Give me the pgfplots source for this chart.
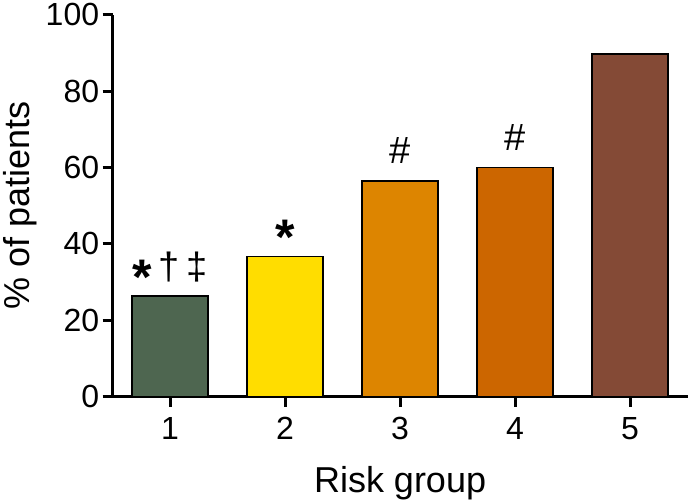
\documentclass[border=0pt]{standalone}
\usepackage{pgfplots}
\pgfplotsset{compat=1.18}
\usepackage{fontspec}
\setmainfont{Liberation Sans}

\definecolor{grpone}{HTML}{4E6650}
\definecolor{grptwo}{HTML}{FFDD00}
\definecolor{grpthree}{HTML}{DD8500}
\definecolor{grpfour}{HTML}{CC6600}
\definecolor{grpfive}{HTML}{844A36}

% big bold star as in the figure
\newcommand{\st}{\raisebox{-15pt}{\fontsize{50}{50}\selectfont\bfseries *}}

\begin{document}
\begin{tikzpicture}
\begin{axis}[
    scale only axis,
    width=575pt,
    height=382pt,
    ybar,
    bar width=76pt,
    bar shift=0pt,
    xmin=0.5, xmax=5.5,
    ymin=0, ymax=100,
    xtick={1,2,3,4,5},
    ytick={0,20,40,60,80,100},
    axis x line=bottom,
    axis y line=left,
    axis line style={-, line width=3pt},
    tick align=outside,
    major tick length=10pt,
    tick style={line width=3pt, black},
    ticklabel style={font=\fontsize{32}{36}\selectfont},
    xticklabel style={yshift=-7pt},
    label style={font=\fontsize{36}{40}\selectfont},
    /pgf/number format/assume math mode=true,
    xlabel={Risk group},
    ylabel={\% of patients},
    xlabel style={yshift=-20pt},
    ylabel style={yshift=2pt},
    point meta=explicit symbolic,
    nodes near coords,
    every node near coord/.append style={
        font=\fontsize{38}{40}\selectfont,
        anchor=base, yshift=17pt, inner sep=0pt},
    every axis plot/.append style={draw=black, line width=1.5pt},
]
% group 1
\addplot[fill=grpone] coordinates {(1,26.3) [\st\,†\,‡]};
% group 2
\addplot[fill=grptwo] coordinates {(2,36.7) [\st]};
% group 3
\addplot[fill=grpthree] coordinates {(3,56.5) [\#]};
% group 4
\addplot[fill=grpfour] coordinates {(4,60.0) [\#]};
% group 5
\addplot[fill=grpfive] coordinates {(5,89.7) []};
\end{axis}
\end{tikzpicture}
\end{document}
